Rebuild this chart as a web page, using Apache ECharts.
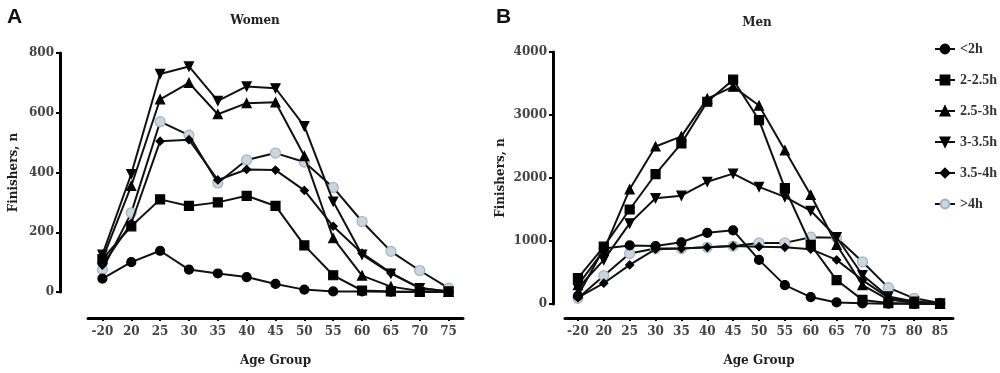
<!DOCTYPE html>
<html><head><meta charset="utf-8">
<script src="https://cdn.jsdelivr.net/npm/echarts@6/dist/echarts.min.js"></script>
<style>html,body{margin:0;padding:0;background:#fff}#c{width:1000px;height:373px}</style>
</head><body><div id="c"></div>
<script>
var womenAges = ['-20','20','25','30','35','40','45','50','55','60','65','70','75'];
var menAges = ['-20','20','25','30','35','40','45','50','55','60','65','70','75','80','85'];
var seriesNames = ['<2h','2-2.5h','2.5-3h','3-3.5h','3.5-4h','>4h'];

var women_lt2 = [45, 100, 138, 75, 62, 50, 27, 8, 2, 2, 1, 0, 0];
var women_2_25 = [110, 220, 310, 288, 300, 322, 288, 156, 56, 5, 2, 0, 0];
var women_25_3 = [110, 355, 645, 700, 595, 632, 635, 455, 180, 55, 18, 3, 0];
var women_3_35 = [125, 395, 730, 755, 640, 688, 682, 555, 303, 125, 62, 13, 2];
var women_35_4 = [90, 230, 505, 510, 375, 410, 408, 340, 220, 130, 64, 13, 2];
var women_gt4 = [75, 265, 570, 525, 365, 442, 465, 435, 350, 236, 136, 72, 13];

var men_lt2 = [130, 880, 930, 920, 980, 1130, 1170, 700, 300, 110, 25, 10, 5, 2, 0];
var men_2_25 = [410, 910, 1500, 2060, 2550, 3210, 3560, 2920, 1840, 940, 380, 65, 15, 5, 0];
var men_25_3 = [300, 850, 1820, 2500, 2660, 3260, 3450, 3150, 2440, 1730, 940, 300, 70, 20, 5];
var men_3_35 = [250, 700, 1280, 1680, 1720, 1940, 2070, 1860, 1700, 1480, 1060, 460, 120, 40, 10];
var men_35_4 = [100, 330, 620, 870, 880, 900, 920, 910, 900, 870, 700, 380, 100, 30, 5];
var men_gt4 = [90, 450, 800, 880, 880, 900, 920, 970, 970, 1060, 1050, 670, 260, 90, 15];

var womenTicks = [0, 200, 400, 600, 800];
var menTicks = [0, 1000, 2000, 3000, 4000];

var FONT = 'DejaVu Serif';
var styles = [
  {symbol:'circle', symbolSize:9, rot:0, fill:'#000', border:'#000'},
  {symbol:'rect', symbolSize:9, rot:0, fill:'#000', border:'#000'},
  {symbol:'triangle', symbolSize:9, rot:0, fill:'#000', border:'#000'},
  {symbol:'triangle', symbolSize:9, rot:180, fill:'#000', border:'#000'},
  {symbol:'diamond', symbolSize:8, rot:0, fill:'#000', border:'#000'},
  {symbol:'circle', symbolSize:10, rot:0, fill:'#cbd7de', border:'#9fb4c0'}
];
var womenData = [women_lt2, women_2_25, women_25_3, women_3_35, women_35_4, women_gt4];
var menData = [men_lt2, men_2_25, men_25_3, men_3_35, men_35_4, men_gt4];

function mk(i, data, gi) {
  var s = styles[i];
  return {
    name: seriesNames[i], type: 'line', xAxisIndex: gi, yAxisIndex: gi,
    data: data, symbol: s.symbol, symbolSize: s.symbolSize, symbolRotate: s.rot,
    showAllSymbol: true, animation: false,
    lineStyle: {color: '#111', width: 2},
    itemStyle: {color: s.fill, borderColor: s.border, borderWidth: 1.2, opacity: 1},
    z: 10 - i
  };
}
var series = [];
for (var i = 0; i < 6; i++) series.push(mk(i, womenData[i], 0));
for (var i = 0; i < 6; i++) series.push(mk(i, menData[i], 1));

var axisTxt = {fontFamily: FONT, fontWeight: 'bold', fontSize: 12, color: '#444'};
function xAx(gi, cats) {
  return {
    type: 'category', gridIndex: gi, data: cats, offset: gi === 0 ? 26 : 14,
    axisLine: {show: true, onZero: false, lineStyle: {color: '#000', width: 3}},
    axisTick: {show: true, alignWithLabel: true, length: 3, lineStyle: {color: '#000', width: 2}},
    axisLabel: Object.assign({margin: 8, interval: 0}, axisTxt),
    name: 'Age Group', nameLocation: 'middle', nameGap: 37,
    nameTextStyle: {fontFamily: FONT, fontWeight: 'bold', fontSize: 12, color: '#222'},
    splitLine: {show: false}
  };
}
function yAx(gi, ticks) {
  return {
    type: 'value', gridIndex: gi, min: ticks[0], max: ticks[ticks.length - 1],
    interval: ticks[1] - ticks[0], offset: gi === 0 ? 28 : 12,
    axisLine: {show: true, onZero: false, lineStyle: {color: '#000', width: 3}},
    axisTick: {show: true, length: 4, lineStyle: {color: '#000', width: 2}},
    axisLabel: Object.assign({margin: 6, formatter: function (v) { return String(v); }}, axisTxt),
    splitLine: {show: false},
    name: 'Finishers, n', nameLocation: 'middle', nameRotate: 90, nameGap: gi === 0 ? 40 : 46,
    nameTextStyle: {fontFamily: FONT, fontWeight: 'bold', fontSize: 12, color: '#222'}
  };
}

var chart = echarts.init(document.getElementById('c'), null, {renderer: 'canvas'});
chart.setOption({
  backgroundColor: '#fff',
  animation: false,
  title: [
    {text: 'A', left: 2, top: 2, textStyle: {fontFamily: 'Liberation Sans', fontWeight: 'bold', fontSize: 21, color: '#111'}},
    {text: 'B', left: 491, top: 2, textStyle: {fontFamily: 'Liberation Sans', fontWeight: 'bold', fontSize: 21, color: '#111'}},
    {text: 'Women', left: 250, top: 10, textAlign: 'center', textStyle: {fontFamily: FONT, fontWeight: 'bold', fontSize: 12, color: '#222'}},
    {text: 'Men', left: 752, top: 12, textAlign: 'center', textStyle: {fontFamily: FONT, fontWeight: 'bold', fontSize: 12, color: '#222'}}
  ],
  legend: {
    data: seriesNames, orient: 'vertical', left: 929, top: 37,
    itemGap: 17, itemWidth: 20, itemHeight: 11,
    textStyle: {fontFamily: 'Liberation Serif', fontWeight: 'bold', fontSize: 14, color: '#333'}
  },
  grid: [
    {left: 88, top: 53, width: 375, height: 239},
    {left: 565, top: 52, width: 388, height: 252}
  ],
  xAxis: [xAx(0, womenAges), xAx(1, menAges)],
  yAxis: [yAx(0, womenTicks), yAx(1, menTicks)],
  series: series
});
</script></body></html>
